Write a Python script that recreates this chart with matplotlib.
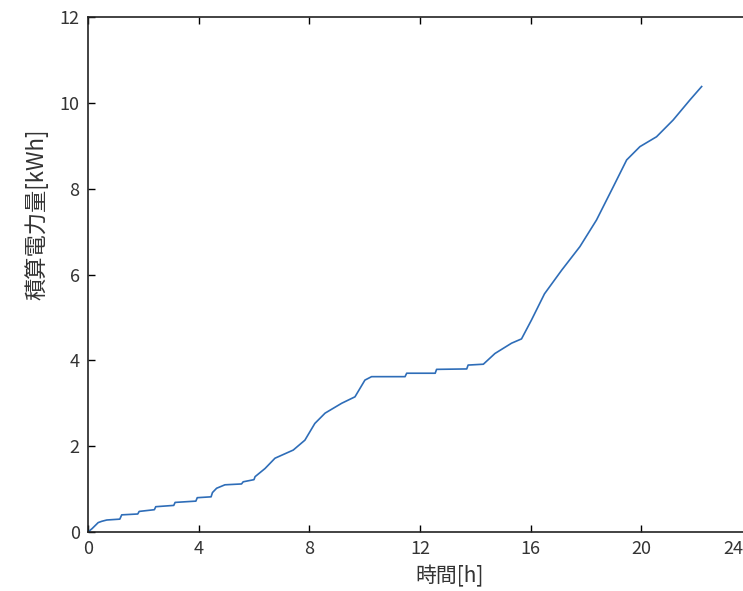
import numpy as np
from matplotlib import pyplot as plt
import matplotlib.transforms as mtransforms

# 時間[h] と 積算電力量[kWh]
hours = [0.00, 0.15, 0.37, 0.50, 0.68, 1.15, 1.22, 1.80, 1.85, 2.40,
         2.45, 3.10, 3.15, 3.90, 3.95, 4.45, 4.50, 4.65, 4.95, 5.55,
         5.61, 6.00, 6.04, 6.40, 6.76, 7.42, 7.84, 8.20, 8.57, 9.17,
         9.65, 10.01, 10.25, 11.46, 11.52, 12.55, 12.60, 13.69, 13.74, 14.29,
         14.71, 15.31, 15.67, 16.03, 16.50, 17.12, 17.78, 18.38, 18.99, 19.47,
         19.95, 20.55, 21.15, 21.76, 22.18]
energy = [0.00, 0.08, 0.22, 0.25, 0.28, 0.30, 0.40, 0.42, 0.48, 0.52,
          0.59, 0.62, 0.69, 0.72, 0.80, 0.82, 0.92, 1.02, 1.10, 1.12,
          1.17, 1.22, 1.29, 1.48, 1.72, 1.91, 2.14, 2.53, 2.77, 3.00,
          3.15, 3.54, 3.62, 3.62, 3.70, 3.70, 3.79, 3.80, 3.89, 3.91,
          4.16, 4.40, 4.50, 4.94, 5.55, 6.10, 6.65, 7.27, 8.05, 8.67,
          8.98, 9.21, 9.60, 10.07, 10.38]
xticks = [0, 4, 8, 12, 16, 20, 24]
yticks = [0, 2, 4, 6, 8, 10, 12]

plt.rcParams['font.family'] = ['Noto Sans CJK JP', 'DejaVu Sans']
txt = '#333333'

fig = plt.figure(figsize=(7.43, 5.91), dpi=100)
ax = fig.add_axes([0.1184, 0.0998, 0.8937, 0.8714])
ax.plot(hours, energy, color='#2e6db8', lw=1.2)

ax.set_xlim(0, 24)
ax.set_ylim(0, 12)
ax.set_xticks(xticks)
ax.set_yticks(yticks)
#目盛りは内向き、四辺
ax.tick_params(direction='in', top=True, right=True, length=5, width=1,
               labelsize=13, labelcolor=txt, pad=6)
for s in ax.spines.values():
    s.set_linewidth(1.2)
    s.set_color('#222222')

#右端の24は画像の端で切れるので少し左へ
lab = ax.get_xticklabels()[-1]
lab.set_transform(lab.get_transform() +
                  mtransforms.ScaledTranslation(-0.19, 0, fig.dpi_scale_trans))

ax.set_xlabel('時間[h]', fontsize=15, color=txt)
ax.set_ylabel('積算電力量[kWh]', fontsize=16, color=txt)
ax.xaxis.set_label_coords(0.544, -0.064)
ax.yaxis.set_label_coords(-0.060, 0.617)

fig.savefig('out.png', dpi=100)
